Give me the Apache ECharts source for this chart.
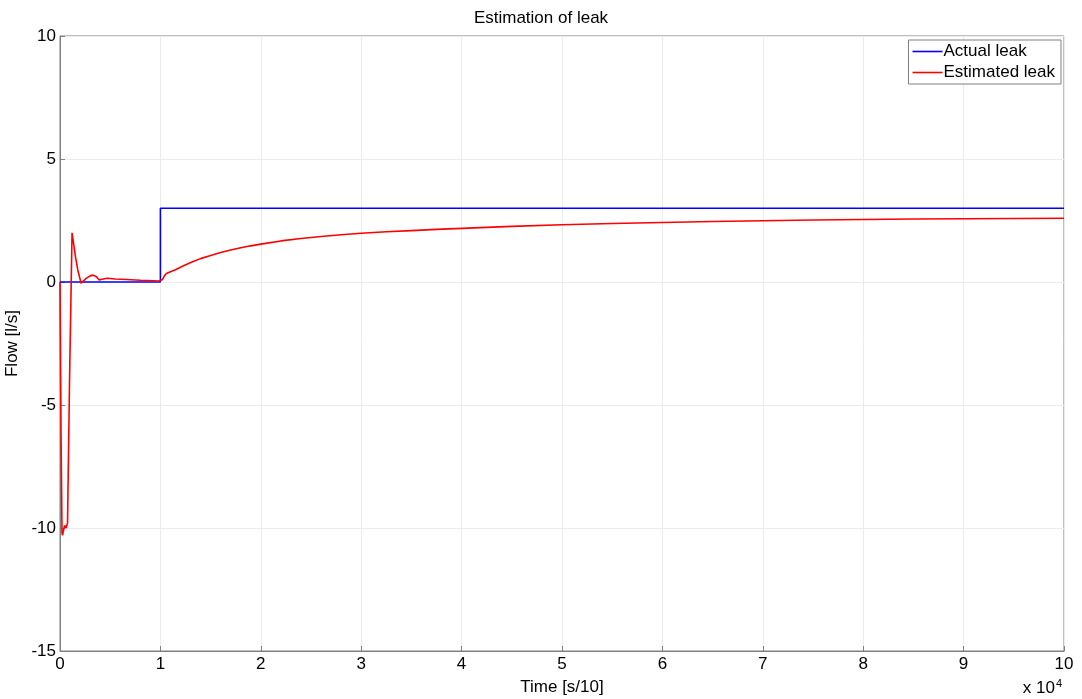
<!DOCTYPE html>
<html>
<head>
<meta charset="utf-8">
<script src="https://cdn.jsdelivr.net/npm/echarts@6/dist/echarts.min.js"></script>
<style>
html,body{margin:0;padding:0;background:#fff;}
#chart{width:1082px;height:699px;}
</style>
</head>
<body>
<div id="chart"></div>
<script>
// Time in [s/10]; axis labels shown in units of 10^4
const actualTime = [0, 10000, 10000, 100000];
const actualLeak = [0, 0, 3, 3];

const estTime = [0, 100, 200, 250, 450, 600, 750, 950, 1200, 1350, 1550, 1770, 2100, 2600, 3000, 3300, 3600, 3900, 4300, 4700, 5500, 6600, 8000, 9900, 10000, 10200, 10400, 10600, 11000, 11500, 12300, 13200, 14000, 15000, 16000, 17000, 18000, 19000, 20000, 22000, 24000, 26000, 28000, 30000, 32500, 35000, 37500, 40000, 45000, 50000, 55000, 60000, 65000, 70000, 75000, 80000, 85000, 90000, 95000, 100000];
const estLeak = [0, -6.0, -10.2, -10.3, -9.9, -10.0, -9.8, -4.0, 2.0, 1.95, 1.0, 0.49, -0.05, 0.15, 0.25, 0.28, 0.22, 0.08, 0.12, 0.15, 0.12, 0.1, 0.07, 0.04, 0.04, 0.1, 0.25, 0.35, 0.42, 0.50, 0.66, 0.82, 0.95, 1.08, 1.20, 1.30, 1.39, 1.47, 1.54, 1.67, 1.77, 1.85, 1.92, 1.98, 2.04, 2.09, 2.14, 2.18, 2.26, 2.33, 2.38, 2.42, 2.46, 2.49, 2.52, 2.54, 2.56, 2.57, 2.58, 2.59];

const xTicks = [0,1,2,3,4,5,6,7,8,9,10];
const yTicks = [-15,-10,-5,0,5,10];

const FONT = 'Liberation Sans, Arial, sans-serif';
const chart = echarts.init(document.getElementById('chart'), null, {renderer: 'canvas'});
const zip = (a, b) => a.map((v, i) => [v, b[i]]);

chart.setOption({
  animation: false,
  backgroundColor: '#fff',
  title: {
    text: 'Estimation of leak',
    left: 'center', top: 5,
    textStyle: {fontFamily: FONT, fontSize: 17, fontWeight: 'normal', color: '#000'}
  },
  grid: {left: 60, right: 18, top: 36, bottom: 48, show: true, borderColor: '#808080', borderWidth: 1,
         backgroundColor: '#fff', containLabel: false, outerBoundsMode: 'none'},
  legend: {
    orient: 'vertical', right: 21, top: 40,
    backgroundColor: '#fff', borderColor: '#808080', borderWidth: 1,
    padding: [3, 6, 3, 4], itemGap: 4, itemWidth: 30, itemHeight: 1.6, icon: 'rect',
    textStyle: {fontFamily: FONT, fontSize: 17, color: '#000', padding: [0, 0, 0, -4]},
    data: ['Actual leak', 'Estimated leak']
  },
  xAxis: {
    type: 'value', min: 0, max: 100000, interval: 10000,
    name: 'Time [s/10]', nameLocation: 'middle', nameGap: 28,
    nameTextStyle: {fontFamily: FONT, fontSize: 17, color: '#000'},
    axisLine: {show: true, onZero: false, lineStyle: {color: '#808080'}},
    axisTick: {show: true, inside: true, length: 5, lineStyle: {color: '#808080'}},
    axisLabel: {fontFamily: FONT, fontSize: 17, color: '#000', margin: 5,
      formatter: v => { const t = v / 10000; return xTicks.indexOf(t) >= 0 ? String(t) : ''; }},
    splitLine: {show: true, lineStyle: {color: '#ebebeb', width: 1}}
  },
  yAxis: {
    type: 'value', min: -15, max: 10, interval: 5,
    name: 'Flow [l/s]', nameLocation: 'middle', nameGap: 34, nameRotate: 90,
    nameTextStyle: {fontFamily: FONT, fontSize: 17, color: '#000'},
    axisLine: {show: true, onZero: false, lineStyle: {color: '#808080'}},
    axisTick: {show: true, inside: true, length: 5, lineStyle: {color: '#808080'}},
    axisLabel: {fontFamily: FONT, fontSize: 17, color: '#000', margin: 4,
      formatter: v => yTicks.indexOf(v) >= 0 ? String(v) : ''},
    splitLine: {show: true, lineStyle: {color: '#ebebeb', width: 1}}
  },
  graphic: [{
    type: 'text', right: 20, top: 678,
    style: {
      text: '{a|x 10}{b|4}',
      rich: {
        a: {fontFamily: FONT, fontSize: 17, fill: '#000'},
        b: {fontFamily: FONT, fontSize: 11, fill: '#000', verticalAlign: 'top', padding: [0, 0, 10, 1]}
      }
    }
  }],
  series: [
    {name: 'Actual leak', type: 'line', data: zip(actualTime, actualLeak), symbol: 'none',
     lineStyle: {color: '#0000ff', width: 1.6}, itemStyle: {color: '#0000ff'}, z: 2},
    {name: 'Estimated leak', type: 'line', data: zip(estTime, estLeak), symbol: 'none',
     lineStyle: {color: '#ff0000', width: 1.6}, itemStyle: {color: '#ff0000'}, z: 3}
  ]
});
</script>
</body>
</html>
